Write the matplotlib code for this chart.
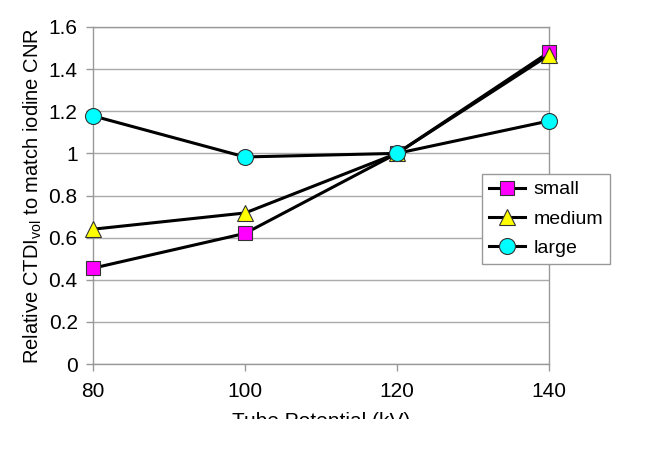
import matplotlib
matplotlib.use("Agg")
import matplotlib.pyplot as plt
from matplotlib.patches import Rectangle

plt.rcParams['font.family'] = ['Liberation Sans', 'DejaVu Sans']

kv = [80, 100, 120, 140]
small = [0.455, 0.62, 1.0, 1.48]
medium = [0.64, 0.717, 1.0, 1.467]
large = [1.178, 0.983, 1.0, 1.154]
yticks = [0, 0.2, 0.4, 0.6, 0.8, 1, 1.2, 1.4, 1.6]
ytick_labels = ['0', '0.2', '0.4', '0.6', '0.8', '1', '1.2', '1.4', '1.6']

fig = plt.figure(figsize=(6.57, 4.54), dpi=100)
ax = fig.add_axes([93/657, 1-364/454, (549-93)/657, (364-27)/454])

ax.plot(kv, small, color='black', lw=2.2, marker='s', ms=10, mfc='#ff00ff',
        mec='#333333', mew=0.8, label='small', clip_on=False, zorder=3)
ax.plot(kv, medium, color='black', lw=2.2, marker='^', ms=11, mfc='#ffff00',
        mec='#333333', mew=0.8, label='medium', clip_on=False, zorder=4)
ax.plot(kv, large, color='black', lw=2.2, marker='o', ms=11.5, mfc='#00ffff',
        mec='#333333', mew=0.8, label='large', clip_on=False, zorder=5)

ax.set_xlim(80, 140)
ax.set_ylim(0, 1.6)
ax.set_xticks(kv)
ax.set_xticklabels([str(k) for k in kv])
ax.set_yticks(yticks)
ax.set_yticklabels(ytick_labels)
ax.yaxis.grid(True, color='#aaaaaa', lw=1)
ax.set_axisbelow(True)
for s in ax.spines.values():
    s.set_color('#999999')
    s.set_linewidth(1)
ax.tick_params(axis='both', colors='#999999', labelcolor='black', labelsize=15,
               length=5, width=1)
ax.tick_params(axis='x', pad=8)
ax.tick_params(axis='y', pad=6)

ax.set_ylabel(r'Relative CTDI$_\mathregular{vol}$ to match iodine CNR', fontsize=14.5, labelpad=3)
ax.set_xlabel('Tube Potential (kV)', fontsize=15, labelpad=8)

leg = ax.legend(loc='upper left', bbox_to_anchor=((482-93)/456, (364-174)/337),
                fontsize=14, frameon=True, fancybox=False, framealpha=1,
                edgecolor='#999999', handlelength=1.85, borderpad=0.35,
                labelspacing=0.6, handletextpad=0.45, borderaxespad=0)
leg.get_frame().set_linewidth(1)

fig.patches.append(Rectangle((0, 0), 1, 1 - 419/454, transform=fig.transFigure,
                             facecolor='white', edgecolor='none', zorder=10))

fig.savefig('out.png', dpi=100)
